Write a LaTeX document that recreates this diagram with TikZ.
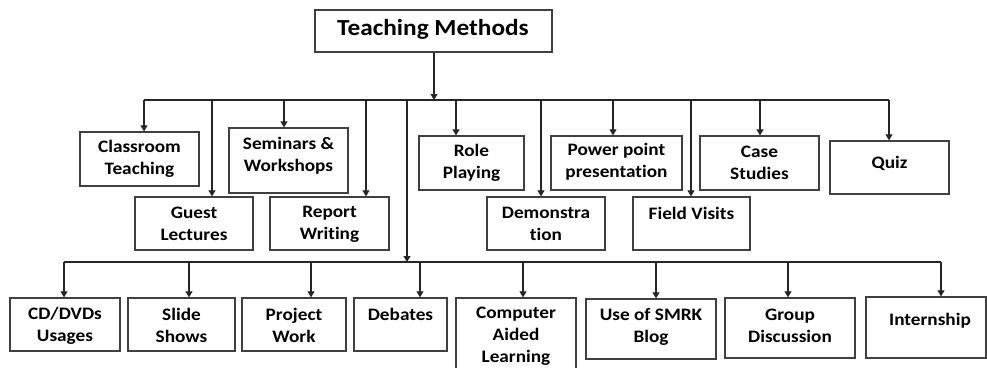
\documentclass[tikz,border=0pt]{standalone}
\usepackage{fontspec}
\setmainfont{Carlito}[FakeStretch=1.1, Ligatures={NoCommon}]
\usetikzlibrary{arrows.meta}
\tikzset{
 box/.style={draw=black!75, line width=1.3pt, rectangle, inner sep=0pt},
 txt/.style={font=\fontsize{17.5}{22}\selectfont\bfseries, align=center, inner sep=0pt, text=black},
 conn/.style={draw=black!85, line width=1.1pt},
 arr/.style={conn, -{Triangle[width=7pt,length=6pt]}},
}
\begin{document}
\begin{tikzpicture}[x=1pt,y=-1pt]
\path[use as bounding box, clip] (0,0) rectangle (987,367);
\fill[white] (0,0) rectangle (987,367);
% title
\node[box, minimum width=237pt, minimum height=42pt] (top) at (433.5,31) {};
\node[txt, font=\fontsize{23}{26}\selectfont\bfseries] (ttop) at (433,29.5) {Teaching Methods};
% row 1
\node[box, minimum width=119pt, minimum height=54pt] (cls) at (139.5,159) {};
\node[txt] (tcls) at (139.5,159) {Classroom\\Teaching};
\node[box, minimum width=119pt, minimum height=65pt] (sem) at (288.5,160.5) {};
\node[txt] (tsem) at (288.5,155.5) {Seminars \&\\Workshops};
\node[box, minimum width=105pt, minimum height=54pt] (rol) at (471.5,163) {};
\node[txt] (trol) at (471.5,163) {Role\\Playing};
\node[box, minimum width=131pt, minimum height=54pt] (ppt) at (616.5,163) {};
\node[txt] (tppt) at (616.5,162) {Power point\\presentation};
\node[box, minimum width=119pt, minimum height=54pt] (cas) at (759.5,163) {};
\node[txt] (tcas) at (759.5,163) {Case\\Studies};
\node[box, minimum width=119pt, minimum height=53pt] (quiz) at (889.5,167.5) {};
\node[txt] (tquiz) at (889.5,163) {Quiz};
% row 2
\node[box, minimum width=118pt, minimum height=53pt] (gst) at (194,223.5) {};
\node[txt] (tgst) at (194,224) {Guest\\Lectures};
\node[box, minimum width=119pt, minimum height=53pt] (rep) at (329.5,223.5) {};
\node[txt] (trep) at (329.5,224) {Report\\Writing};
\node[box, minimum width=118pt, minimum height=53pt] (dem) at (546,223.5) {};
\node[txt] (tdem) at (546,224) {Demonstra\\tion};
\node[box, minimum width=117pt, minimum height=53pt] (fld) at (691.5,223.5) {};
\node[txt] (tfld) at (691.5,213) {Field Visits};
% row 3
\node[box, minimum width=110pt, minimum height=53pt] (cd) at (65,324.5) {};
\node[txt] (tcd) at (65,325.5) {CD/DVDs\\Usages};
\node[box, minimum width=107pt, minimum height=53pt] (sl) at (181.5,324.5) {};
\node[txt] (tsl) at (181.5,325.5) {Slide\\Shows};
\node[box, minimum width=104pt, minimum height=53pt] (pw) at (294,324.5) {};
\node[txt] (tpw) at (294,325.5) {Project\\Work};
\node[box, minimum width=93pt, minimum height=53pt] (deb) at (400.5,324.5) {};
\node[txt] (tdeb) at (400.5,314) {Debates};
\node[box, minimum width=120pt, minimum height=82pt] (cal) at (516,339) {};
\node[txt] (tcal) at (516,336.5) {Computer\\Aided\\Learning};
\node[box, minimum width=130pt, minimum height=60pt] (smrk) at (651,329) {};
\node[txt] (tsmrk) at (651,326.5) {Use of SMRK\\Blog};
\node[box, minimum width=130pt, minimum height=60pt] (gd) at (790,328) {};
\node[txt] (tgd) at (790,326) {Group\\Discussion};
\node[box, minimum width=120pt, minimum height=61pt] (int) at (926,327.5) {};
\node[txt] (tint) at (930,321) {Internship};
% top bus
\coordinate (a0) at (434,100);
\coordinate (a1) at (144,100);
\coordinate (a2) at (212,100);
\coordinate (a3) at (284,100);
\coordinate (a4) at (366,100);
\coordinate (a5) at (407,100);
\coordinate (a6) at (456,100);
\coordinate (a7) at (541,100);
\coordinate (a8) at (613,100);
\coordinate (a9) at (691,100);
\coordinate (a10) at (760,100);
\coordinate (a11) at (889,100);
\draw[conn] (a1) -- (a11);
\draw[arr] (top.south -| a0) -- (a0);
\draw[arr] (a1) -- (a1 |- cls.north);
\draw[arr] (a2) -- (a2 |- gst.north);
\draw[arr] (a3) -- (a3 |- sem.north);
\draw[arr] (a4) -- (a4 |- rep.north);
\draw[arr] (a6) -- (a6 |- rol.north);
\draw[arr] (a7) -- (a7 |- dem.north);
\draw[arr] (a8) -- (a8 |- ppt.north);
\draw[arr] (a9) -- (a9 |- fld.north);
\draw[arr] (a10) -- (a10 |- cas.north);
\draw[arr] (a11) -- (a11 |- quiz.north);
% lower bus
\coordinate (b1) at (64,262);
\coordinate (b2) at (189,262);
\coordinate (b3) at (311,262);
\coordinate (b4) at (420,262);
\coordinate (b5) at (523,262);
\coordinate (b6) at (656,262);
\coordinate (b7) at (788,262);
\coordinate (b8) at (941,262);
\coordinate (b0) at (407,262);
\draw[conn] (b1) -- (b8);
\draw[arr] (a5) -- (b0);
\draw[arr] (b1) -- (b1 |- cd.north);
\draw[arr] (b2) -- (b2 |- sl.north);
\draw[arr] (b3) -- (b3 |- pw.north);
\draw[arr] (b4) -- (b4 |- deb.north);
\draw[arr] (b5) -- (b5 |- cal.north);
\draw[arr] (b6) -- (b6 |- smrk.north);
\draw[arr] (b7) -- (b7 |- gd.north);
\draw[arr] (b8) -- (b8 |- int.north);
\end{tikzpicture}
\end{document}
